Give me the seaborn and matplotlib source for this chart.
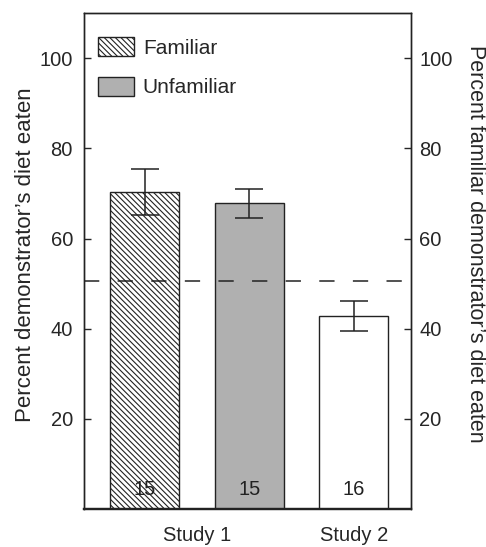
import numpy as np
import pandas as pd
import matplotlib
matplotlib.use('Agg')
import matplotlib.pyplot as plt
from matplotlib.patches import Patch
import seaborn as sns

conditions = ['Familiar', 'Unfamiliar', 'Study 2']
means = [70.4, 67.8, 42.8]
sems = [5.1, 3.2, 3.4]
n_subjects = ['15', '15', '16']
study_labels = ['Study 1', 'Study 2']
chance_level = 50.5

fills = ['white', '#b0b0b0', 'white']
hatches = ['\\\\\\\\\\\\', '', '']

sns.set_style('white')
plt.rcParams['font.family'] = ['Liberation Sans', 'DejaVu Sans']
plt.rcParams['hatch.linewidth'] = 0.8
plt.rcParams['hatch.color'] = '#333333'

df = pd.DataFrame({'condition': conditions, 'mean': means, 'sem': sems})

fig = plt.figure(figsize=(4.86, 5.47), dpi=100)
ax = fig.add_axes([0.173, 0.0695, 0.673, 0.9065])

sns.barplot(data=df, x='condition', y='mean', hue='condition', palette=fills,
            legend=False, errorbar=None, width=0.66, edgecolor='#222222',
            linewidth=1.0, ax=ax)
for bar, h in zip(ax.patches, hatches):
    bar.set_hatch(h)

ax.errorbar(range(len(conditions)), df['mean'], yerr=df['sem'], fmt='none',
            ecolor='#222222', elinewidth=1.1, capsize=10, capthick=1.1, zorder=4)

for i, lab in enumerate(n_subjects):
    ax.text(i, 4.3, lab, ha='center', va='center', fontsize=14.5, color='#222222', zorder=5)

ax.axhline(chance_level, color='#222222', lw=1.1, dashes=(10, 12), zorder=3)

ax.set_xlim(-0.58, 2.55)
ax.set_ylim(0, 110)
ax.set_xticks([0.5, 2], study_labels)
ax.set_yticks([20, 40, 60, 80, 100])
ax.tick_params(axis='x', length=0, pad=12, labelsize=14.5)
ax.yaxis.set_tick_params(which='major', direction='in', length=5, width=1,
                         left=True, right=False, labelsize=14.5, pad=8)
ax.set_xlabel('')
ax.set_ylabel("Percent demonstrator\u2019s diet eaten", fontsize=16,
              va='center', ha='center')
ax.yaxis.set_label_coords(-0.18, 0.512)
for s in ax.spines.values():
    s.set_color('#222222')
    s.set_linewidth(1.0)
ax.spines['bottom'].set_linewidth(1.6)

ax2 = ax.twinx()
ax2.set_ylim(0, 110)
ax2.set_yticks([20, 40, 60, 80, 100])
ax2.yaxis.set_tick_params(which='major', direction='in', length=5, width=1,
                          left=False, right=True, labelsize=14.5, pad=6)
ax2.set_ylabel("Percent familiar demonstrator\u2019s diet eaten", fontsize=15.5,
               rotation=270, va='center', ha='center')
ax2.yaxis.set_label_coords(1.196, 0.534)
for s in ax2.spines.values():
    s.set_color('#222222')
    s.set_linewidth(1.0)
ax2.spines['bottom'].set_linewidth(1.6)

handles = [Patch(facecolor=fills[0], edgecolor='#222222', hatch=hatches[0], lw=1.0),
           Patch(facecolor=fills[1], edgecolor='#222222', lw=1.0)]
ax.legend(handles, conditions[:2], loc='upper left',
          bbox_to_anchor=(98 / 486, 1 - 37 / 547), bbox_transform=fig.transFigure,
          frameon=False, fontsize=15, handlelength=1.75, handleheight=1.06,
          handletextpad=0.4, labelspacing=0.9, borderpad=0, borderaxespad=0)

fig.savefig('out.png', dpi=100)
